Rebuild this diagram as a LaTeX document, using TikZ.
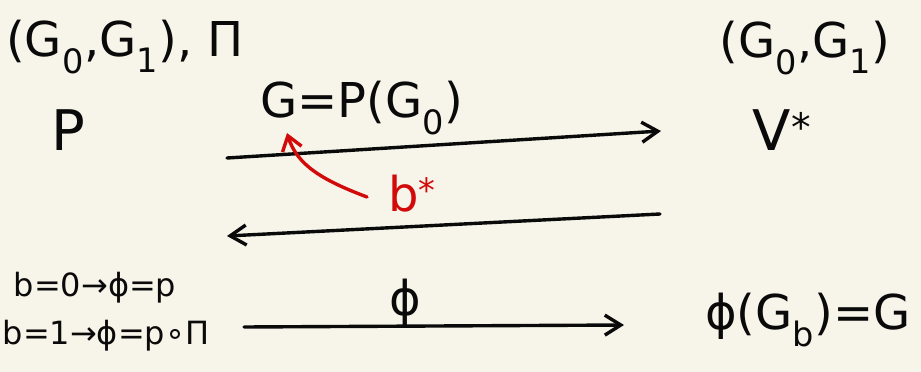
\documentclass[tikz,border=0pt]{standalone}
\usepackage{fontspec}
\setmainfont{DejaVu Sans}
\usetikzlibrary{arrows.meta}
\definecolor{paper}{RGB}{247,245,234}
\definecolor{ink}{RGB}{10,10,10}
\definecolor{redink}{RGB}{210,10,10}
\newcommand{\sbs}[1]{\textsubscript{#1}}
\tikzset{
  big/.style={inner sep=0pt, text=ink, font=\fontsize{48}{54}\selectfont},
  huge/.style={inner sep=0pt, text=ink, font=\fontsize{56}{62}\selectfont},
  small/.style={inner sep=0pt, text=ink, font=\fontsize{32}{38}\selectfont},
  msg/.style={draw=ink, line width=3.4pt, line cap=round, -{Straight Barb[length=16pt,width=20pt,line width=3.4pt]}},
  redarrow/.style={draw=redink, line width=3.4pt, line cap=round, -{Straight Barb[length=14pt,width=20pt,line width=3.4pt]}}
}
\begin{document}
\begin{tikzpicture}[x=1pt,y=-1pt]
\useasboundingbox (0,0) rectangle (921,372);
\fill[paper] (0,0) rectangle (921,372);

\node[big] (graphs) at (125,47) {(G\sbs{0},G\sbs{1}), Π};
\node[huge] (prover) at (68,130) {P};
\node[big] (commit) at (362,108) {G=P(G\sbs{0})};
\node[big] (graphsV) at (805,48) {(G\sbs{0},G\sbs{1})};
\node[huge] (verifier) at (782,130) {V\textsuperscript{*}};
\node[big, text=redink] (chal) at (412,194) {b\textsuperscript{*}};
\node[small] (rule0) at (95,288) {b=0→ϕ=p};
\node[small] (rule1) at (106,336) {b=1→ϕ=p∘Π};
\node[big] (phi) at (405,302) {ϕ};
\node[big] (check) at (808,320) {ϕ(G\sbs{b})=G};

\coordinate (a1s) at (227,158);
\coordinate (a1e) at (661,131);
\coordinate (a2s) at (660,214);
\coordinate (a2e) at (227,236);
\coordinate (a3s) at (244,327);
\coordinate (a3e) at (624,325);
\coordinate (rs) at (367,197);
\coordinate (re) at (287,133);

\draw[msg] (a1s) -- (a1e);
\draw[msg] (a2s) -- (a2e);
\draw[msg] (a3s) -- (a3e);
\draw[redarrow] (rs) .. controls (322,180) and (297,165) .. (re);
\end{tikzpicture}
\end{document}
